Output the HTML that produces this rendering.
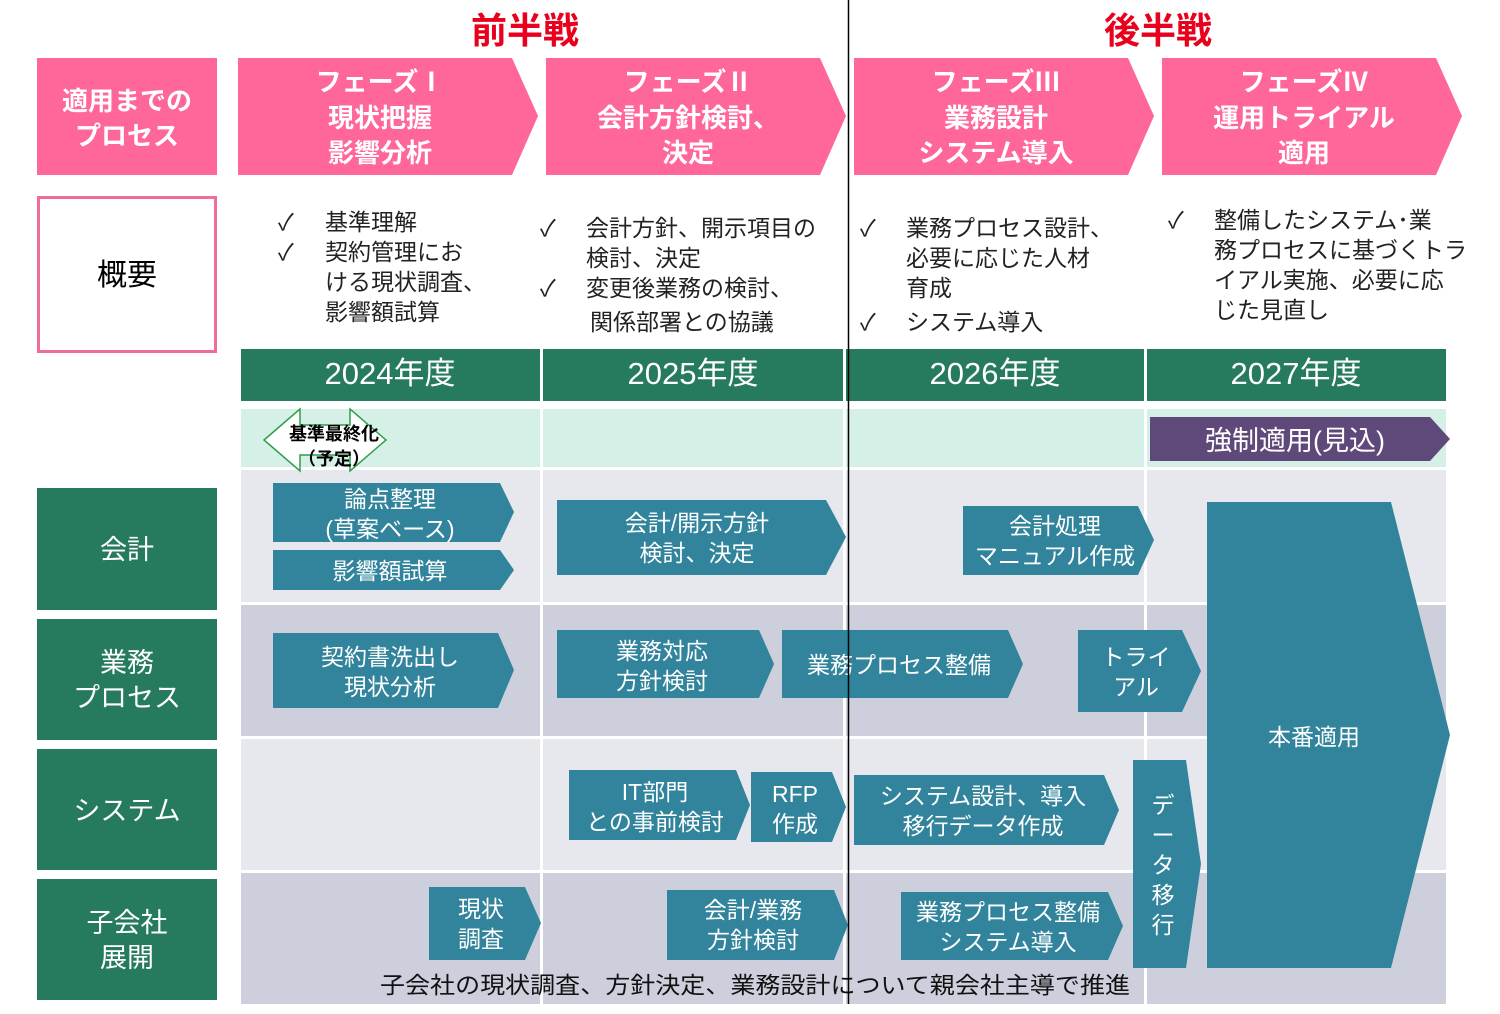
<!DOCTYPE html>
<html><head><meta charset="utf-8"><style>
body{margin:0;background:#fff;}
svg text{font-family:"Liberation Sans","Noto Sans CJK JP",sans-serif;}
</style></head><body>
<svg width="1500" height="1009" viewBox="0 0 1500 1009" xmlns="http://www.w3.org/2000/svg">
<text x="525" y="43" font-size="36" font-weight="bold" fill="#E8001C" text-anchor="middle">前半戦</text>
<text x="1158" y="43" font-size="36" font-weight="bold" fill="#E8001C" text-anchor="middle">後半戦</text>
<rect x="37" y="58" width="180" height="117" fill="#FF6699"/>
<text x="127" y="110" font-size="26" font-weight="bold" fill="#fff" text-anchor="middle">適用までの</text>
<text x="127" y="145" font-size="26" font-weight="bold" fill="#fff" text-anchor="middle">プロセス</text>
<g fill="#FF6699">
<polygon points="238,58 512,58 538,116 512,175 238,175"/>
<polygon points="546,58 820,58 846,116 820,175 546,175"/>
<polygon points="854,58 1128,58 1154,116 1128,175 854,175"/>
<polygon points="1162,58 1436,58 1462,116 1436,175 1162,175"/>
</g>
<g font-size="26" font-weight="bold" fill="#fff" text-anchor="middle">
<text x="380" y="91">フェーズⅠ</text><text x="380" y="127">現状把握</text><text x="380" y="162">影響分析</text>
<text x="688" y="91">フェーズⅡ</text><text x="688" y="127">会計方針検討、</text><text x="688" y="162">決定</text>
<text x="996" y="91">フェーズⅢ</text><text x="996" y="127">業務設計</text><text x="996" y="162">システム導入</text>
<text x="1304" y="91">フェーズⅣ</text><text x="1304" y="127">運用トライアル</text><text x="1304" y="162">適用</text>
</g>
<rect x="38.5" y="197.5" width="177" height="154" fill="#fff" stroke="#F06C9B" stroke-width="3"/>
<text x="127" y="285" font-size="30" fill="#000" text-anchor="middle">概要</text>
<g font-size="23" fill="#222">
<text x="278" y="230">✓</text><text x="325" y="230">基準理解</text>
<text x="278" y="260">✓</text><text x="325" y="260">契約管理にお</text>
<text x="325" y="290">ける現状調査、</text><text x="325" y="320">影響額試算</text>
<text x="540" y="236">✓</text><text x="586" y="236">会計方針、開示項目の</text>
<text x="586" y="266">検討、決定</text>
<text x="540" y="296">✓</text><text x="586" y="296">変更後業務の検討、</text>
<text x="590" y="330">関係部署との協議</text>
<text x="860" y="236">✓</text><text x="906" y="236">業務プロセス設計、</text>
<text x="906" y="266">必要に応じた人材</text><text x="906" y="296">育成</text>
<text x="860" y="330">✓</text><text x="906" y="330">システム導入</text>
<text x="1168" y="228">✓</text><text x="1214" y="228">整備したシステム･業</text>
<text x="1214" y="258">務プロセスに基づくトラ</text>
<text x="1214" y="288">イアル実施、必要に応</text>
<text x="1214" y="318">じた見直し</text>
</g>
<g fill="#267A5E">
<rect x="241" y="349" width="299" height="52"/><rect x="543" y="349" width="300" height="52"/>
<rect x="846" y="349" width="298" height="52"/><rect x="1147" y="349" width="299" height="52"/>
</g>
<g font-size="31" fill="#fff" text-anchor="middle">
<text x="390" y="384">2024年度</text><text x="693" y="384">2025年度</text>
<text x="995" y="384">2026年度</text><text x="1296" y="384">2027年度</text>
</g>
<g fill="#D5F0E6">
<rect x="241" y="409" width="299" height="58"/><rect x="543" y="409" width="300" height="58"/>
<rect x="846" y="409" width="298" height="58"/><rect x="1147" y="409" width="299" height="58"/>
</g>
<g fill="#E7E8EE">
<rect x="241" y="470" width="299" height="132"/><rect x="543" y="470" width="300" height="132"/>
<rect x="846" y="470" width="298" height="132"/><rect x="1147" y="470" width="299" height="132"/>
<rect x="241" y="739" width="299" height="131"/><rect x="543" y="739" width="300" height="131"/>
<rect x="846" y="739" width="298" height="131"/><rect x="1147" y="739" width="299" height="131"/>
</g>
<g fill="#CDD0DC">
<rect x="241" y="605" width="299" height="131"/><rect x="543" y="605" width="300" height="131"/>
<rect x="846" y="605" width="298" height="131"/><rect x="1147" y="605" width="299" height="131"/>
<rect x="241" y="873" width="299" height="131"/><rect x="543" y="873" width="300" height="131"/>
<rect x="846" y="873" width="298" height="131"/><rect x="1147" y="873" width="299" height="131"/>
</g>
<g fill="#267A5E">
<rect x="37" y="488" width="180" height="122"/><rect x="37" y="619" width="180" height="121"/>
<rect x="37" y="749" width="180" height="121"/><rect x="37" y="879" width="180" height="121"/>
</g>
<g font-size="27" fill="#fff" text-anchor="middle">
<text x="127" y="559">会計</text>
<text x="127" y="672">業務</text><text x="127" y="707">プロセス</text>
<text x="127" y="820">システム</text>
<text x="127" y="932">子会社</text><text x="127" y="967">展開</text>
</g>
<polygon points="264,440 300,409 300,425 350,425 350,409 386,440 350,471 350,455 300,455 300,471" fill="#fff" stroke="#2E9E4A" stroke-width="1.5"/>
<text x="334" y="440" font-size="18" font-weight="bold" fill="#000" text-anchor="middle">基準最終化</text>
<text x="334" y="465" font-size="18" font-weight="bold" fill="#000" text-anchor="middle">（予定）</text>
<polygon points="1150,417 1430,417 1450,439 1430,461 1150,461" fill="#5F497A"/>
<text x="1295" y="450" font-size="27" fill="#fff" text-anchor="middle">強制適用(見込)</text>
<g fill="#31849B">
<polygon points="273,483 500,483 514,512 500,542 273,542"/>
<polygon points="273,550 500,550 514,570 500,590 273,590"/>
<polygon points="557,500 826,500 846,537 826,575 557,575"/>
<polygon points="963,506 1138,506 1154,540 1138,575 963,575"/>
<polygon points="1207,502 1391,502 1450,735 1391,968 1207,968"/>
<polygon points="273,633 498,633 514,670 498,708 273,708"/>
<polygon points="557,630 759,630 774,664 759,698 557,698"/>
<polygon points="782,630 1008,630 1023,664 1008,698 782,698"/>
<polygon points="1078,630 1182,630 1201,671 1182,712 1078,712"/>
<polygon points="569,770 736,770 750,805 736,840 569,840"/>
<polygon points="751,772 832,772 846,807 832,842 751,842"/>
<polygon points="854,775 1104,775 1119,810 1104,845 854,845"/>
<polygon points="1133,760 1186,760 1201,864 1186,968 1133,968"/>
<polygon points="429,887 525,887 541,923 525,960 429,960"/>
<polygon points="667,890 834,890 848,925 834,960 667,960"/>
<polygon points="901,892 1108,892 1123,926 1108,960 901,960"/>
</g>
<g font-size="23" fill="#fff" text-anchor="middle">
<text x="390" y="507">論点整理</text><text x="390" y="537">(草案ベース)</text>
<text x="390" y="579">影響額試算</text>
<text x="697" y="531">会計/開示方針</text><text x="697" y="561">検討、決定</text>
<text x="1055" y="534">会計処理</text><text x="1055" y="564">マニュアル作成</text>
<text x="1314" y="745">本番適用</text>
<text x="390" y="665">契約書洗出し</text><text x="390" y="695">現状分析</text>
<text x="662" y="659">業務対応</text><text x="662" y="689">方針検討</text>
<text x="899" y="673">業務プロセス整備</text>
<text x="1136" y="665">トライ</text><text x="1136" y="695">アル</text>
<text x="655" y="800">IT部門</text><text x="655" y="830">との事前検討</text>
<text x="795" y="802">RFP</text><text x="795" y="832">作成</text>
<text x="983" y="804">システム設計、導入</text><text x="983" y="834">移行データ作成</text>
<text x="1163" y="813">デ</text><text x="1163" y="843">ー</text><text x="1163" y="873">タ</text><text x="1163" y="903">移</text><text x="1163" y="933">行</text>
<text x="481" y="917">現状</text><text x="481" y="947">調査</text>
<text x="753" y="918">会計/業務</text><text x="753" y="948">方針検討</text>
<text x="1008" y="920">業務プロセス整備</text><text x="1008" y="950">システム導入</text>
</g>
<text x="380" y="993" font-size="23" fill="#111" textLength="750" lengthAdjust="spacingAndGlyphs">子会社の現状調査、方針決定、業務設計について親会社主導で推進</text>
<line x1="848.5" y1="0" x2="848.5" y2="1004" stroke="#000" stroke-width="1.5"/>
</svg>
</body></html>
